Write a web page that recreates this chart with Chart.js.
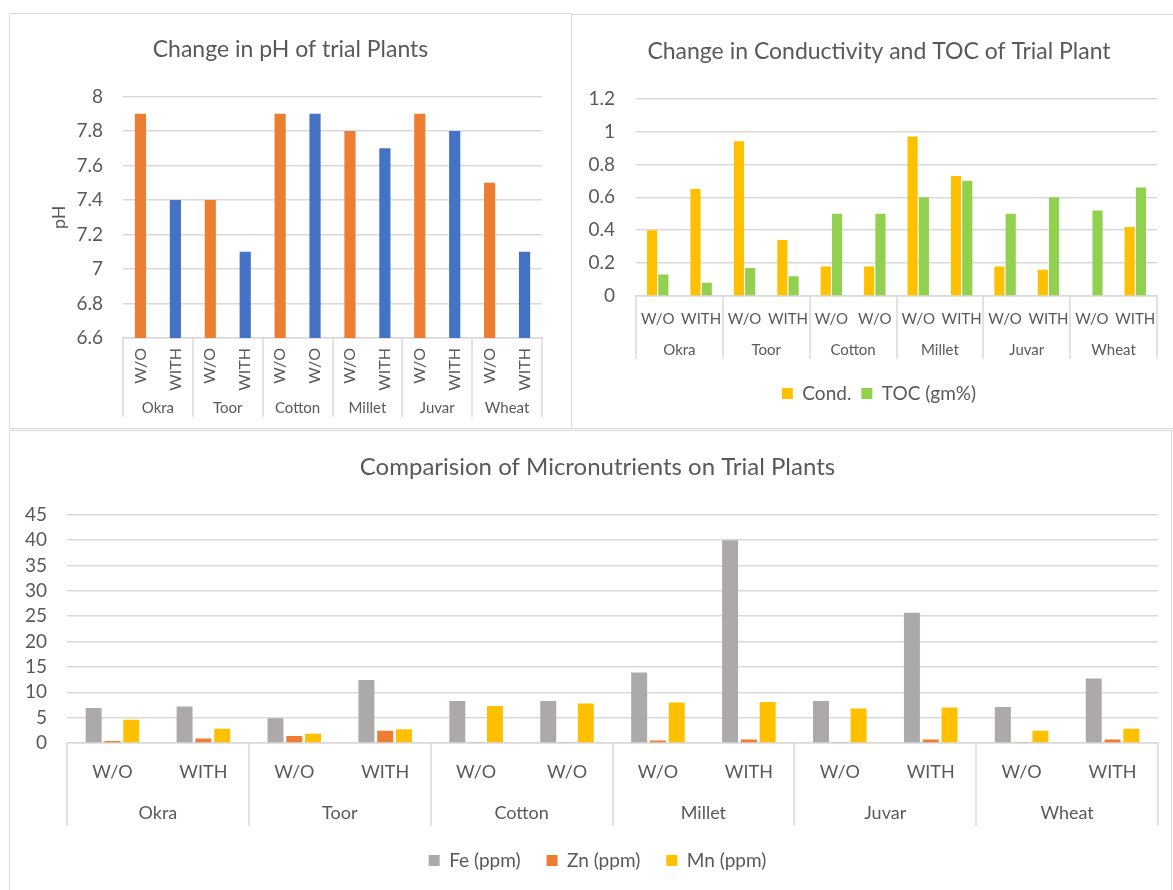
<!DOCTYPE html>
<html>
<head>
<meta charset="utf-8">
<script src="https://cdn.jsdelivr.net/npm/chart.js@4"></script>
<style>
    body { margin: 0; background: #fff; overflow: hidden; }
    .panel { position: absolute; border: 1px solid #D9D9D9; }
    .panel canvas { position: absolute; left: 0; top: 0; }
</style>
</head>
<body>
<div class="panel" style="left:9px;top:13px;width:561px;height:414px">
    <canvas id="phChart" width="561" height="414"></canvas>
</div>
<div class="panel" style="left:571px;top:14px;width:615px;height:413px">
    <canvas id="condChart" width="614" height="413"></canvas>
</div>
<div class="panel" style="left:9px;top:430px;width:1161px;height:470px">
    <canvas id="microChart" width="1175" height="459"></canvas>
</div>
<script>
/* ================= DATA ================= */
const groups = ["Okra", "Toor", "Cotton", "Millet", "Juvar", "Wheat"];
const treatments = ["W/O", "WITH", "W/O", "WITH", "W/O", "W/O", "W/O", "WITH", "W/O", "WITH", "W/O", "WITH"];

const phValues = [7.9, 7.4, 7.4, 7.1, 7.9, 7.9, 7.8, 7.7, 7.9, 7.8, 7.5, 7.1];
const phTicks = [6.6, 6.8, 7, 7.2, 7.4, 7.6, 7.8, 8];

const condValues = [0.40, 0.65, 0.94, 0.34, 0.18, 0.18, 0.97, 0.73, 0.18, 0.16, null, 0.42];
const tocValues = [0.13, 0.08, 0.17, 0.12, 0.50, 0.50, 0.60, 0.70, 0.50, 0.60, 0.52, 0.66];
const condTicks = [0, 0.2, 0.4, 0.6, 0.8, 1, 1.2];

const feValues = [6.9, 7.2, 4.9, 12.4, 8.3, 8.3, 13.9, 40, 8.3, 25.7, 7.1, 12.7];
const znValues = [0.4, 0.9, 1.4, 2.4, 0.2, 0.2, 0.5, 0.7, 0.1, 0.7, 0.1, 0.7];
const mnValues = [4.6, 2.8, 1.8, 2.7, 7.3, 7.8, 8.0, 8.1, 6.8, 7.0, 2.4, 2.8];
const microTicks = [0, 5, 10, 15, 20, 25, 30, 35, 40, 45];

/* ================= STYLE ================= */
const TEXT = "#595959";
const GRID = "#D9D9D9";
const ORANGE = "#ED7D31";
const BLUE = "#4472C4";
const YELLOW = "#FFC000";
const GREEN = "#92D050";
const GRAY = "#ADA9A9";

Chart.defaults.font.family = "Lato, 'Open Sans', sans-serif";
Chart.defaults.color = TEXT;
Chart.defaults.animation = false;

/* ================= GROUP SEPARATORS ================= */
const groupLines = {
    id: "groupLines",
    afterDraw(chart, args, opts) {
        const x = chart.scales.x;
        const x2 = chart.scales.x2;
        const ctx = chart.ctx;
        ctx.save();
        ctx.strokeStyle = GRID;
        ctx.lineWidth = 1.5;
        for (let i = 0; i <= groups.length; i++) {
            const px = Math.round(x2.getPixelForValue(i - 0.5));
            ctx.beginPath();
            ctx.moveTo(px, x.top);
            ctx.lineTo(px, x2.top + opts.len);
            ctx.stroke();
        }
        ctx.restore();
    }
};

/* ================= SHARED SCALES ================= */
function valueAxis(ticks, width, pad, title) {
    return {
        min: ticks[0],
        max: ticks[ticks.length - 1],
        afterBuildTicks: s => { s.ticks = ticks.map(v => ({ value: v })); },
        afterFit: s => { s.width = width; },
        grid: { color: GRID, lineWidth: 1.5, drawTicks: false },
        border: { display: false },
        ticks: { autoSkip: false, padding: pad, font: { size: 19 }, callback: v => String(v) },
        title: title || { display: false }
    };
}

// empty right-hand gutter so the title stays centred on the whole panel
function gutterAxis(width) {
    return {
        type: "linear",
        position: "right",
        afterFit: s => { s.width = width; },
        grid: { display: false, drawTicks: false },
        border: { display: false },
        ticks: { display: false }
    };
}

function subAxis(height, pad, size, rotated) {
    return {
        afterFit: s => { s.height = height; },
        grid: { display: false, drawTicks: false },
        border: { display: true, color: GRID, width: 1.5 },
        ticks: {
            autoSkip: false,
            padding: pad,
            font: { size: size },
            minRotation: rotated ? 90 : 0,
            maxRotation: rotated ? 90 : 0
        }
    };
}

function groupAxis(height, pad, size) {
    return {
        type: "category",
        position: "bottom",
        labels: groups,
        offset: true,
        afterFit: s => { s.height = height; },
        grid: { display: false, drawTicks: false },
        border: { display: false },
        ticks: { autoSkip: false, padding: pad, font: { size: size }, maxRotation: 0 }
    };
}

function titleOpts(text, size, top, bottom) {
    return {
        display: true,
        text: text,
        color: TEXT,
        font: { size: size, weight: "normal" },
        padding: { top: top, bottom: bottom }
    };
}

function legendOpts(pad) {
    return {
        display: true,
        position: "bottom",
        labels: { boxWidth: 11, boxHeight: 11, font: { size: 19 }, padding: pad, color: TEXT }
    };
}

/* ================= PH CHART ================= */
new Chart(document.getElementById("phChart"), {
    type: "bar",
    data: {
        labels: treatments,
        datasets: [{
            label: "pH",
            data: phValues,
            yAxisID: "y",
            backgroundColor: phValues.map((v, i) => i % 2 ? BLUE : ORANGE),
            categoryPercentage: 1,
            barPercentage: 0.32
        }]
    },
    options: {
        responsive: false,
        devicePixelRatio: 1,
        layout: { padding: { left: 0, right: 0, top: 0, bottom: 11 } },
        plugins: {
            legend: { display: false },
            tooltip: { enabled: false },
            title: titleOpts("Change in pH of trial Plants", 23, 22, 33),
            groupLines: { len: 24 }
        },
        scales: {
            x: subAxis(55, 10, 16, true),
            x2: groupAxis(24, 6, 15),
            y: valueAxis(phTicks, 113, 20, {
                display: true, text: "pH", color: TEXT,
                font: { size: 18 }, padding: { top: 38, bottom: 0 }
            }),
            gutter: gutterAxis(29)
        }
    },
    plugins: [groupLines]
});

/* ================= CONDUCTIVITY / TOC CHART ================= */
new Chart(document.getElementById("condChart"), {
    type: "bar",
    data: {
        labels: treatments,
        datasets: [
            { label: "Cond.", data: condValues, yAxisID: "y", backgroundColor: YELLOW, categoryPercentage: 0.52, barPercentage: 0.9 },
            { label: "TOC (gm%)", data: tocValues, yAxisID: "y", backgroundColor: GREEN, categoryPercentage: 0.52, barPercentage: 0.9 }
        ]
    },
    options: {
        responsive: false,
        devicePixelRatio: 1,
        layout: { padding: { left: 0, right: 0, top: 0, bottom: 15 } },
        plugins: {
            legend: legendOpts(10),
            tooltip: { enabled: false },
            title: titleOpts("Change in Conductivity and TOC of Trial Plant", 23, 23, 33),
            groupLines: { len: 23 }
        },
        scales: {
            x: subAxis(40, 14, 15, false),
            x2: groupAxis(38, 5, 15),
            y: valueAxis(condTicks, 64, 21),
            gutter: gutterAxis(29)
        }
    },
    plugins: [groupLines]
});

/* ================= MICRONUTRIENT CHART ================= */
new Chart(document.getElementById("microChart"), {
    type: "bar",
    data: {
        labels: treatments,
        datasets: [
            { label: "Fe (ppm)", data: feValues, yAxisID: "y", backgroundColor: GRAY, categoryPercentage: 0.62, barPercentage: 0.85 },
            { label: "Zn (ppm)", data: znValues, yAxisID: "y", backgroundColor: ORANGE, categoryPercentage: 0.62, barPercentage: 0.85 },
            { label: "Mn (ppm)", data: mnValues, yAxisID: "y", backgroundColor: YELLOW, categoryPercentage: 0.62, barPercentage: 0.85 }
        ]
    },
    options: {
        responsive: false,
        devicePixelRatio: 1,
        layout: { padding: { left: 0, right: 0, top: 0, bottom: 10 } },
        plugins: {
            legend: legendOpts(26),
            tooltip: { enabled: false },
            title: titleOpts("Comparision of Micronutrients on Trial Plants", 24, 22, 33),
            groupLines: { len: 32 }
        },
        scales: {
            x: subAxis(51, 18, 18, false),
            x2: groupAxis(31, 8, 18),
            y: valueAxis(microTicks, 57, 20),
            gutter: gutterAxis(27)
        }
    },
    plugins: [groupLines]
});
</script>
</body>
</html>
